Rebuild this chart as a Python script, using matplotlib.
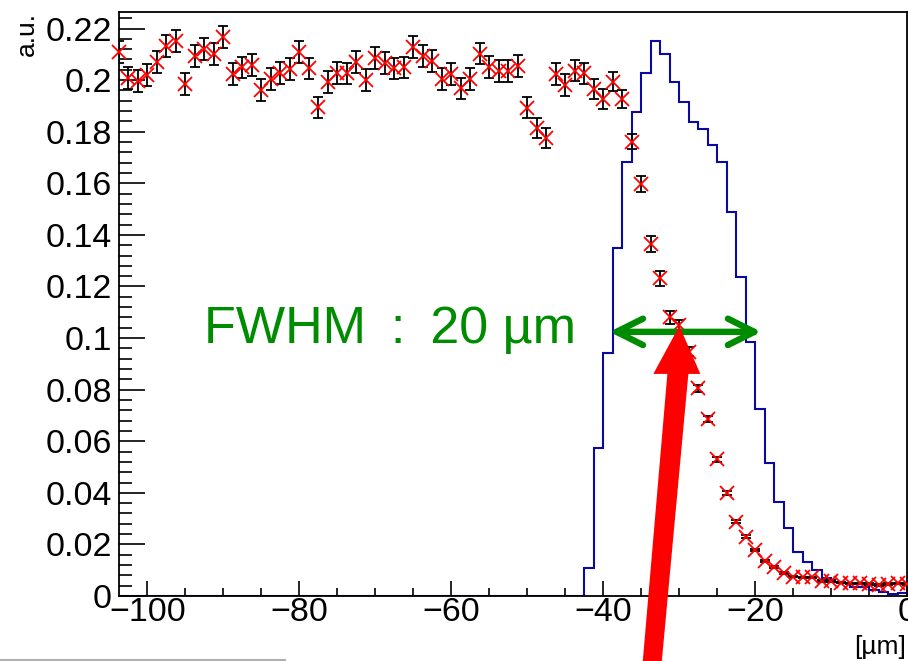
import numpy as np
import matplotlib
matplotlib.use("Agg")
import matplotlib.pyplot as plt
from matplotlib.patches import Polygon
from matplotlib.lines import Line2D
from matplotlib.ticker import MultipleLocator, FuncFormatter

plt.rcParams['font.family'] = ['Liberation Sans', 'DejaVu Sans']

# ---------------- data ----------------
bin_width = 1.25
x_min, x_max = -103.75, 0.0

# measured points (red crosses with black error bars), at x_min + k*bin_width
point_y = [0.2110, 0.2007, 0.1996, 0.2019, 0.2071, 0.2133, 0.2151, 0.1984, 0.2093, 0.2119,
           0.2100, 0.2168, 0.2023, 0.2049, 0.2058, 0.1961, 0.2003, 0.2028, 0.2044, 0.2110,
           0.2045, 0.1894, 0.1993, 0.2028, 0.2026, 0.2069, 0.2000, 0.2086, 0.2065, 0.2045,
           0.2049, 0.2127, 0.2094, 0.2075, 0.2004, 0.2023, 0.1968, 0.2003, 0.2103, 0.2052,
           0.2036, 0.2036, 0.2055, 0.1893, 0.1815, 0.1776, 0.2023, 0.1981, 0.2036, 0.2026,
           0.1965, 0.1926, 0.1993, 0.1926, 0.1761, 0.1597, 0.1363, 0.1231, 0.1080, 0.1050,
           0.0947, 0.0805, 0.0685, 0.0530, 0.0398, 0.0288, 0.0230, 0.0178, 0.0137, 0.0111,
           0.0088, 0.0075, 0.0072, 0.0072, 0.0059, 0.0059, 0.0052, 0.0049, 0.0049, 0.0047,
           0.0043, 0.0047, 0.0049, 0.0047]
point_err = [0.0042, 0.0042, 0.0043, 0.0042, 0.0043, 0.0043, 0.0043, 0.0042, 0.0043, 0.0043,
             0.0043, 0.0043, 0.0042, 0.0042, 0.0042, 0.0042, 0.0042, 0.0042, 0.0042, 0.0043,
             0.0042, 0.0040, 0.0042, 0.0042, 0.0042, 0.0042, 0.0042, 0.0042, 0.0042, 0.0042,
             0.0042, 0.0043, 0.0042, 0.0042, 0.0042, 0.0042, 0.0042, 0.0042, 0.0042, 0.0042,
             0.0042, 0.0042, 0.0042, 0.0040, 0.0040, 0.0039, 0.0042, 0.0041, 0.0041, 0.0040,
             0.0039, 0.0038, 0.0037, 0.0035, 0.0030, 0.0032, 0.0031, 0.0030, 0.0024, 0.0020,
             0.0018, 0.0014, 0.0012, 0.0009, 0.0008, 0.0006, 0.0005, 0.0005, 0.0004, 0.0004,
             0.0004, 0.0003, 0.0003, 0.0003, 0.0003, 0.0003, 0.0003, 0.0003, 0.0003, 0.0003,
             0.0003, 0.0003, 0.0003, 0.0003]

# blue histogram contents (83 bins of 1.25 from -103.75 to 0)
hist_vals = [0.0] * 49 + [
    0.0110, 0.0575, 0.0943, 0.1348, 0.1681, 0.1875, 0.2028, 0.2151, 0.2100, 0.1993,
    0.1915, 0.1838, 0.1809, 0.1748, 0.1683, 0.1490, 0.1238, 0.0986, 0.0725, 0.0514,
    0.0363, 0.0262, 0.0172, 0.0133, 0.0101, 0.0069, 0.0055, 0.0049, 0.0036, 0.0034,
    0.0023, 0.0017, 0.0008, 0.0010]

y_ticks = [0, 0.02, 0.04, 0.06, 0.08, 0.1, 0.12, 0.14, 0.16, 0.18, 0.2, 0.22]
x_ticks = [-100, -80, -60, -40, -20, 0]

fwhm_text = "FWHM \u2009: \u200920 µm"
fwhm_left, fwhm_right, fwhm_level = -39.2, -19.2, 0.1024
arrow_target = (-30.0, 0.1047)

# ---------------- figure ----------------
W, H = 908, 661
fig = plt.figure(figsize=(W / 100, H / 100), dpi=100)
ax = fig.add_axes([119 / W, 1 - 596 / H, (907.3 - 119) / W, (596 - 12) / H])

edges = x_min + bin_width * np.arange(len(hist_vals) + 1)
ax.stairs(hist_vals, edges, color='#0a0aa0', lw=1.5, zorder=2)

px = x_min + bin_width * np.arange(len(point_y))
ax.errorbar(px, point_y, yerr=point_err, fmt='none', ecolor='black',
            elinewidth=1.3, capsize=3.5, capthick=1.3, zorder=3)
ax.plot(px, point_y, ls='none', marker='x', color='#ff0000', ms=10, mew=1.3,
        zorder=4, clip_on=False)

ax.set_xlim(x_min, x_max)
ax.set_ylim(0, 0.2264)
ax.set_xticks(x_ticks)
ax.set_yticks(y_ticks)
ax.xaxis.set_minor_locator(MultipleLocator(5))
ax.yaxis.set_minor_locator(MultipleLocator(0.004))
ax.yaxis.set_major_formatter(FuncFormatter(lambda v, p: f"{v:g}"))
ax.tick_params(axis='both', which='both', direction='in', labelsize=24.5,
               width=1.2, top=False, right=False)
ax.tick_params(axis='y', which='major', length=19, pad=5)
ax.tick_params(axis='y', which='minor', length=9.5)
ax.tick_params(axis='x', which='major', length=11, pad=1)
ax.tick_params(axis='x', which='minor', length=5.5)
for s in ax.spines.values():
    s.set_linewidth(1.3)

# green FWHM arrow and text
green = '#008c00'
ax.annotate('', xy=(fwhm_right, fwhm_level), xytext=(fwhm_left, fwhm_level),
            arrowprops=dict(arrowstyle='<->,head_length=19,head_width=9.5',
                            lw=4.6, color=green, mutation_scale=1,
                            shrinkA=0, shrinkB=0, capstyle='round',
                            joinstyle='round'), zorder=5)
ax.text(-92.5, 0.098, fwhm_text, color=green, fontsize=37.5, ha='left',
        va='baseline', zorder=5)

# axis titles
fig.text(27 / W, 1 - 12 / H, 'a.u.', rotation=90, ha='center', va='top',
         fontsize=19)
fig.text(906 / W, 2 / H, '[µm]', ha='right', va='bottom', fontsize=19)

# big red arrow (figure pixel coordinates, top-origin)
tip_disp = ax.transData.transform(arrow_target)
tipx, tipy = tip_disp[0], H - tip_disp[1]
verts_px = [(tipx, tipy), (tipx + 21, tipy + 48), (tipx + 9, tipy + 48),
            (tipx - 18, H + 5), (tipx - 37, H + 5), (tipx - 12, tipy + 48),
            (tipx - 26, tipy + 48)]
verts = [(vx / W, 1 - vy / H) for vx, vy in verts_px]
fig.add_artist(Polygon(verts, closed=True, transform=fig.transFigure,
                       facecolor='#ff0000', edgecolor='none', zorder=10))

# grey line at bottom-left
fig.add_artist(Line2D([0, 285 / W], [1 - 660 / H, 1 - 660 / H],
                      transform=fig.transFigure, color='#b0b0b0', lw=1.5))

fig.savefig('out.png', dpi=100)
